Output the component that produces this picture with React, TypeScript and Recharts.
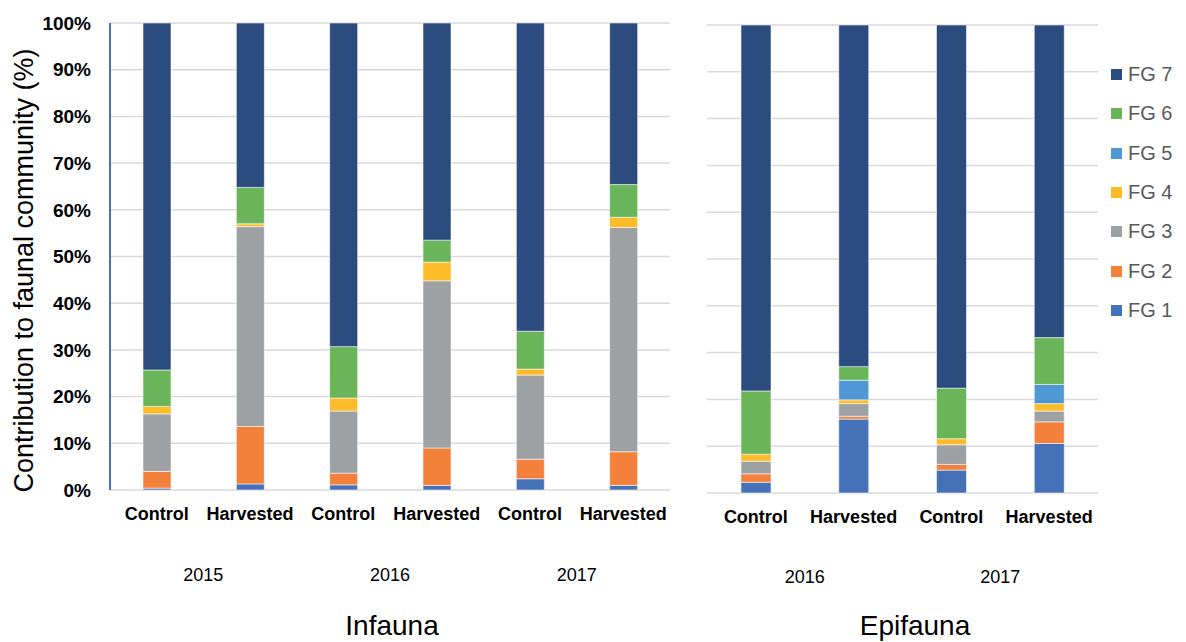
import { Bar, BarChart, CartesianGrid, Legend, XAxis, YAxis } from 'recharts';

const FONT = '"Liberation Sans", Arial, sans-serif';

// infauna: 3 years x 2 treatments
const infaunaTreatments = ['Control', 'Harvested', 'Control', 'Harvested', 'Control', 'Harvested'];
const infaunaYears = ['2015', '2015', '2016', '2016', '2017', '2017'];
const infFG1 = [0.4, 1.3, 1.1, 1.0, 2.4, 1.0];
const infFG2 = [3.6, 12.3, 2.5, 8.0, 4.2, 7.2];
const infFG3 = [12.3, 42.8, 13.3, 35.8, 18.0, 48.0];
const infFG4 = [1.6, 0.6, 2.8, 4.0, 1.3, 2.2];
const infFG5 = [0, 0, 0, 0, 0, 0];
const infFG6 = [7.8, 7.8, 11.0, 4.7, 8.1, 7.0];
const infFG7 = [74.3, 35.2, 69.3, 46.5, 66.0, 34.6];

// epifauna: 2 years x 2 treatments
const epifaunaTreatments = ['Control', 'Harvested', 'Control', 'Harvested'];
const epifaunaYears = ['2016', '2016', '2017', '2017'];
const epiFG1 = [2.3, 15.8, 4.9, 10.6];
const epiFG2 = [1.8, 0.6, 1.2, 4.6];
const epiFG3 = [2.7, 2.7, 4.2, 2.3];
const epiFG4 = [1.5, 0.8, 1.3, 1.6];
const epiFG5 = [0, 4.2, 0, 4.1];
const epiFG6 = [13.5, 2.9, 10.8, 10.0];
const epiFG7 = [78.2, 73.0, 77.6, 66.8];

const groupNames = ['FG 1', 'FG 2', 'FG 3', 'FG 4', 'FG 5', 'FG 6', 'FG 7'];
const groupColors = ['#4571b8', '#f4813b', '#9ea1a4', '#febc2b', '#5098d3', '#6ab459', '#2c4c80'];
const yTicks = [0, 10, 20, 30, 40, 50, 60, 70, 80, 90, 100];

function buildRows(treatments: string[], years: string[], series: number[][]) {
  return treatments.map((t, i) => {
    const row: Record<string, string | number> = { treatment: t, year: years[i] };
    groupNames.forEach((g, k) => {
      row[g] = series[k][i];
    });
    return row;
  });
}

const infaunaRows = buildRows(infaunaTreatments, infaunaYears, [infFG1, infFG2, infFG3, infFG4, infFG5, infFG6, infFG7]);
const epifaunaRows = buildRows(epifaunaTreatments, epifaunaYears, [epiFG1, epiFG2, epiFG3, epiFG4, epiFG5, epiFG6, epiFG7]);

const catTick = { fill: '#000', fontSize: 18, fontWeight: 700, fontFamily: FONT };
const yearTick = { fill: '#000', fontSize: 18, fontFamily: FONT };

function renderLegend(props: any) {
  const items = [...(props.payload || [])].sort((a: any, b: any) => String(b.value).localeCompare(String(a.value)));
  return (
    <div style={{ fontFamily: FONT }}>
      {items.map((it: any) => (
        <div key={it.value} style={{ height: 39.3, display: 'flex', alignItems: 'center' }}>
          <span style={{ width: 11, height: 11, background: it.color, display: 'inline-block', marginRight: 6 }} />
          <span style={{ fontSize: 20, color: '#595959' }}>{it.value}</span>
        </div>
      ))}
    </div>
  );
}

function stackBars() {
  return groupNames.map((g, k) => (
    <Bar
      key={g}
      dataKey={g}
      stackId="a"
      fill={groupColors[k]}
      stroke="#ffffff"
      strokeOpacity={0.55}
      strokeWidth={1}
      isAnimationActive={false}
    />
  ));
}

export default function App() {
  return (
    <div style={{ position: 'absolute', left: 0, top: 0, width: 1186, height: 642, background: '#fff', fontFamily: FONT }}>
      <div style={{ position: 'absolute', left: 0, top: 0 }}>
        <BarChart width={690} height={642} data={infaunaRows} margin={{ top: 23, right: 20, bottom: 42, left: 0 }} barSize={28}>
          <CartesianGrid vertical={false} stroke="#d9d9d9" strokeWidth={1.5} />
          <XAxis dataKey="treatment" axisLine={false} tickLine={false} height={50} tickMargin={11} interval={0} tick={catTick} />
          <XAxis
            xAxisId="year"
            dataKey="year"
            allowDuplicatedCategory={false}
            axisLine={false}
            tickLine={false}
            height={60}
            tickMargin={22}
            interval={0}
            tick={yearTick}
          />
          <YAxis
            domain={[0, 100]}
            ticks={yTicks}
            tickFormatter={(v) => `${v}%`}
            width={110}
            axisLine={{ stroke: '#4472c4', strokeWidth: 2 }}
            tickLine={false}
            tickMargin={13}
            tick={{ fill: '#000', fontSize: 19, fontWeight: 700, fontFamily: FONT }}
            label={{
              value: 'Contribution to faunal community (%)',
              angle: -90,
              position: 'insideLeft',
              offset: 23,
              dy: 14,
              style: { textAnchor: 'middle', fontSize: 27, fill: '#000', fontFamily: FONT }
            }}
          />
          {stackBars()}
        </BarChart>
      </div>
      <div style={{ position: 'absolute', left: 690, top: 0 }}>
        <BarChart width={496} height={642} data={epifaunaRows} margin={{ top: 25, right: 88, bottom: 39, left: 17 }} barSize={30}>
          <CartesianGrid vertical={false} stroke="#d9d9d9" strokeWidth={1.5} />
          <XAxis dataKey="treatment" axisLine={false} tickLine={false} height={50} tickMargin={11} interval={0} tick={catTick} />
          <XAxis
            xAxisId="year"
            dataKey="year"
            allowDuplicatedCategory={false}
            axisLine={false}
            tickLine={false}
            height={60}
            tickMargin={21}
            interval={0}
            tick={yearTick}
          />
          <YAxis hide domain={[0, 100]} ticks={yTicks} />
          <Legend
            layout="vertical"
            align="center"
            verticalAlign="middle"
            wrapperStyle={{ left: 421, top: 55, width: 75 }}
            content={renderLegend}
          />
          {stackBars()}
        </BarChart>
      </div>
      <div style={{ position: 'absolute', left: 292, top: 608, width: 200, textAlign: 'center', fontSize: 28, lineHeight: '36px', color: '#000' }}>
        Infauna
      </div>
      <div style={{ position: 'absolute', left: 815, top: 608, width: 200, textAlign: 'center', fontSize: 28, lineHeight: '36px', color: '#000' }}>
        Epifauna
      </div>
    </div>
  );
}
